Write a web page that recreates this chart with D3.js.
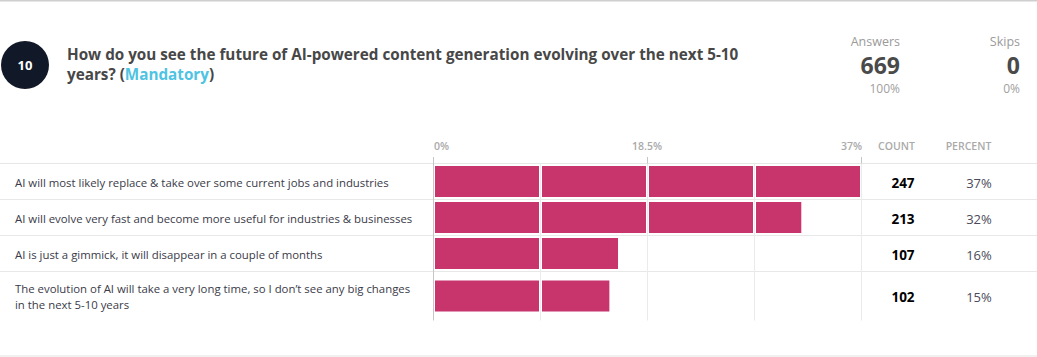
<!DOCTYPE html>
<html><head><meta charset="utf-8">
<script src="https://cdn.jsdelivr.net/npm/d3@7/dist/d3.min.js"></script>
<style>
body{margin:0;background:#fff}
svg{display:block;font-family:"Open Sans","Noto Sans",sans-serif}
</style>
</head><body>
<svg id="chart" width="1037" height="357"></svg>
<script>
// ---- data ----
const questionNumber = "10";
const titleLine1 = "How do you see the future of AI-powered content generation evolving over the next 5-10";
const titleLine2 = "years? (";
const mandatoryLabel = "Mandatory";
const categories = [
  ["AI will most likely replace & take over some current jobs and industries"],
  ["AI will evolve very fast and become more useful for industries & businesses"],
  ["AI is just a gimmick, it will disappear in a couple of months"],
  ["The evolution of AI will take a very long time, so I don\u2019t see any big changes", "in the next 5-10 years"]
];
const counts = [247, 213, 107, 102];
const percentLabels = ["37%", "32%", "16%", "15%"];
const totalAnswers = 669;
const answersPct = "100%";
const totalSkips = 0;
const skipsPct = "0%";
const axisTicks = [0, 0.185, 0.37];
const axisTickLabels = ["0%", "18.5%", "37%"];
const gridTicks = [0, 0.0925, 0.185, 0.2775, 0.37];
const columnHeaders = ["COUNT", "PERCENT"];

// ---- drawing ----
const svg = d3.select("#chart");
const W = 1037;
const barColor = "#c8346c";
const gridColor = "#ebebeb";

function fit(sel, target) {
  const w = sel.node().getComputedTextLength();
  const fs = parseFloat(sel.attr("font-size"));
  const nfs = fs * target / w;
  sel.attr("font-size", nfs);
  return nfs;
}

// frame lines
svg.append("rect").attr("x", 0).attr("y", 0).attr("width", W).attr("height", 1.5).attr("fill", "#cfcfcf");
svg.append("rect").attr("x", 0).attr("y", 355.5).attr("width", W).attr("height", 1).attr("fill", "#e2e2e2");

// question badge
svg.append("circle").attr("cx", 25).attr("cy", 65).attr("r", 24).attr("fill", "#111827");
svg.append("text").attr("x", 25).attr("y", 69.5).attr("text-anchor", "middle")
  .attr("font-size", 13).attr("font-weight", "bold").attr("fill", "#fff").text(questionNumber);

// title
const t1 = svg.append("text").attr("x", 67).attr("y", 60).attr("font-size", 15)
  .attr("font-weight", "bold").attr("fill", "#474747").text(titleLine1);
const tfs = fit(t1, 672);
const t2 = svg.append("text").attr("x", 67).attr("y", 80).attr("font-size", tfs)
  .attr("font-weight", "bold").attr("fill", "#474747");
t2.append("tspan").text(titleLine2);
t2.append("tspan").attr("fill", "#4fc3e2").text(mandatoryLabel);
t2.append("tspan").text(")");

// stats
const stats = [
  {label: "Answers", value: totalAnswers, pct: answersPct, x: 900},
  {label: "Skips", value: totalSkips, pct: skipsPct, x: 1020}
];
stats.forEach(s => {
  svg.append("text").attr("x", s.x).attr("y", 46).attr("text-anchor", "end")
    .attr("font-size", 12.5).attr("fill", "#9a9a9a").text(s.label);
  svg.append("text").attr("x", s.x).attr("y", 73.5).attr("text-anchor", "end")
    .attr("font-size", 23).attr("font-weight", "bold").attr("fill", "#4a4a4a").text(s.value);
  svg.append("text").attr("x", s.x).attr("y", 93).attr("text-anchor", "end")
    .attr("font-size", 12).attr("fill", "#a0a0a0").text(s.pct);
});

// scale
const x = d3.scaleLinear().domain([0, 0.37]).range([433, 861]);
const px = v => Math.round(x(v)) + 0.5;

// rows layout
const headerY = 163.5;
const rowHeights = categories.map(c => c.length > 1 ? 49 : 36);
const rowTops = [];
rowHeights.reduce((acc, h) => { rowTops.push(acc); return acc + h; }, headerY);
const chartBottom = rowTops[rowTops.length - 1] + rowHeights[rowHeights.length - 1];

// horizontal lines
svg.append("line").attr("x1", 0).attr("x2", W).attr("y1", headerY).attr("y2", headerY)
  .attr("stroke", "#e6e6e6");
rowTops.slice(1).forEach(t => {
  svg.append("line").attr("x1", 0).attr("x2", W).attr("y1", t).attr("y2", t)
    .attr("stroke", "#e8e8e8");
});

// gridlines
gridTicks.slice(1).forEach(g => {
  svg.append("line").attr("x1", px(g)).attr("x2", px(g)).attr("y1", headerY).attr("y2", chartBottom)
    .attr("stroke", gridColor);
});
// axis line + ticks
svg.append("line").attr("x1", px(0)).attr("x2", px(0)).attr("y1", 157).attr("y2", chartBottom)
  .attr("stroke", "#c6c6c6");
axisTicks.slice(1).forEach(t => {
  svg.append("line").attr("x1", px(t)).attr("x2", px(t)).attr("y1", 157).attr("y2", headerY)
    .attr("stroke", "#c6c6c6");
});

// tick labels
axisTicks.forEach((t, i) => {
  const anchor = i === 0 ? "start" : (i === axisTicks.length - 1 ? "end" : "middle");
  svg.append("text").attr("x", i === 0 ? x(t) + 1 : (i === axisTicks.length - 1 ? x(t) + 1 : x(t)))
    .attr("y", 150).attr("text-anchor", anchor)
    .attr("font-size", 10.5).attr("font-weight", 600).attr("fill", "#aaaaaa").text(axisTickLabels[i]);
});

// column headers
const countX = 903, pctX = 979;
svg.append("text").attr("x", 896.5).attr("y", 150).attr("text-anchor", "middle")
  .attr("font-size", 10.5).attr("font-weight", 600).attr("fill", "#aaaaaa").text(columnHeaders[0]);
svg.append("text").attr("x", 968.5).attr("y", 150).attr("text-anchor", "middle")
  .attr("font-size", 10.5).attr("font-weight", 600).attr("fill", "#aaaaaa").text(columnHeaders[1]);

// rows
let labelFs = 12;
categories.forEach((lines, i) => {
  const top = rowTops[i], h = rowHeights[i], cy = top + h / 2;
  const v = counts[i] / totalAnswers;
  // bar segments split at gridlines
  for (let k = 0; k < gridTicks.length - 1; k++) {
    const a = gridTicks[k], b = gridTicks[k + 1];
    if (v <= a) break;
    const x0 = x(a) + 2;
    const x1 = Math.min(x(b) - 1, x(v));
    svg.append("rect").attr("x", x0).attr("y", cy - 15.5).attr("width", Math.max(0, x1 - x0))
      .attr("height", 31).attr("fill", barColor);
  }
  // label
  const baseY = lines.length > 1 ? cy - 3 : cy + 5.8;
  const lt = svg.append("text").attr("x", 15).attr("font-size", labelFs).attr("fill", "#3a3a48");
  lines.forEach((ln, j) => {
    lt.append("tspan").attr("x", 15).attr("y", baseY + j * 16).text(ln);
  });
  if (i === 0) {
    labelFs = fit(lt, 374);
  }
  // count & percent
  svg.append("text").attr("x", countX).attr("y", cy + 6).attr("text-anchor", "middle")
    .attr("font-size", 13.5).attr("font-weight", "bold").attr("fill", "#000").text(counts[i]);
  svg.append("text").attr("x", pctX).attr("y", cy + 6).attr("text-anchor", "middle")
    .attr("font-size", 13).attr("fill", "#4a4a5a").text(percentLabels[i]);
});
</script>
</body></html>
